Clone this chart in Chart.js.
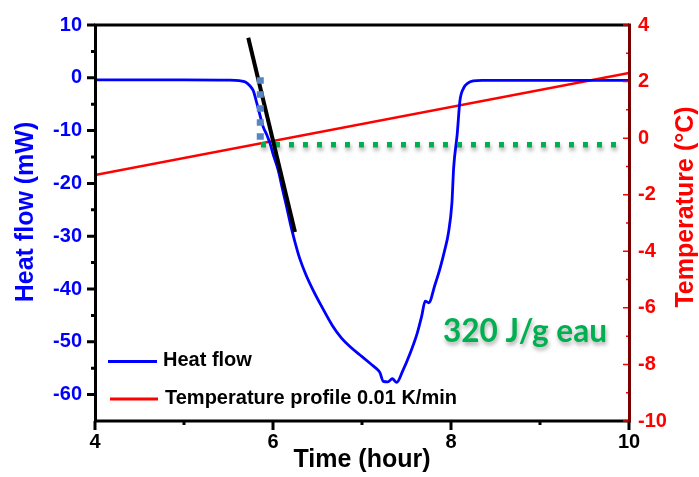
<!DOCTYPE html>
<html><head><meta charset="utf-8">
<script src="https://cdn.jsdelivr.net/npm/chart.js@4/dist/chart.umd.min.js"></script>
<style>html,body{margin:0;padding:0;background:#fff;}#wrap{width:699px;height:477px;}</style>
</head><body><div id="wrap"><canvas id="c" width="699" height="477"></canvas></div>
<script>
// ---- data ----
const timeHours = [4.0, 5.0, 5.5, 5.62, 5.69, 5.74, 5.78, 5.81, 5.84, 5.89, 5.93, 5.97, 6.0, 6.06, 6.1, 6.15, 6.2, 6.25, 6.3, 6.37, 6.45, 6.55, 6.67, 6.77, 6.87, 7.0, 7.1, 7.17, 7.2, 7.24, 7.29, 7.34, 7.39, 7.46, 7.54, 7.62, 7.67, 7.71, 7.75, 7.82, 7.88, 7.93, 7.97, 8.01, 8.03, 8.07, 8.10, 8.14, 8.19, 8.25, 8.35, 9.0, 10.0];
const heatFlow = [-0.4, -0.4, -0.45, -0.55, -0.8, -1.5, -2.5, -4.3, -6.2, -9.3, -10.8, -12.6, -14.4, -17.6, -20.6, -24.2, -28.0, -31.3, -34.2, -37.3, -40.2, -43.4, -47.0, -49.3, -51.0, -52.8, -54.2, -55.2, -55.8, -57.5, -57.6, -57.0, -57.7, -55.4, -52.2, -48.4, -45.2, -42.3, -42.6, -39.2, -35.9, -32.6, -29.5, -23.8, -17.0, -10.6, -4.4, -2.0, -1.0, -0.6, -0.5, -0.5, -0.5];
const tempTime = [4, 10];
const tempValues = [-1.3, 2.3];
const tangentTime = [5.722, 6.247];
const tangentHeat = [7.6, -29.2];
const onsetTime = [5.857, 5.857];
const onsetHeat = [0.1, -11.8];
const plateauTime = [5.865, 9.86];
const plateauHeat = [-12.7, -12.7];
const xTicks = [4, 6, 8, 10];
const xMinor = [5, 7, 9];
const heatTicks = [10, 0, -10, -20, -30, -40, -50, -60];
const heatMinor = [5, -5, -15, -25, -35, -45, -55];
const tempTicks = [4, 2, 0, -2, -4, -6, -8, -10];
const tempMinor = [3, 1, -1, -3, -5, -7, -9];
const legendLabels = ['Heat flow', 'Temperature profile 0.01 K/min'];
const annotationText = '320 J/g eau';
const xTitle = 'Time (hour)';
const yTitle = 'Heat flow (mW)';
const y2Title = 'Temperature (°C)';

const pts = (xs, ys) => xs.map((x, i) => ({x, y: ys[i]}));
const FONT = '"Liberation Sans", Arial, sans-serif';
const BLUE = '#0000ff', RED = '#ff0000', GREEN = '#00b050';

const shadowPlugin = {
  id: 'shadowPlugin',
  beforeDatasetDraw(chart, args) {
    const ds = chart.data.datasets[args.index];
    if (ds.shadow) {
      const ctx = chart.ctx; ctx.save();
      ctx.shadowColor = 'rgba(0,0,0,0.35)'; ctx.shadowBlur = 4; ctx.shadowOffsetX = 1; ctx.shadowOffsetY = 3;
    }
  },
  afterDatasetDraw(chart, args) {
    const ds = chart.data.datasets[args.index];
    if (ds.shadow) chart.ctx.restore();
  }
};

const decoPlugin = {
  id: 'deco',
  afterDraw(chart) {
    const ctx = chart.ctx, a = chart.chartArea;
    const sx = chart.scales.x, sy = chart.scales.y, sy2 = chart.scales.y2;
    ctx.save();
    ctx.lineCap = 'butt';
    ctx.strokeStyle = '#000'; ctx.lineWidth = 3;
    ctx.beginPath();
    ctx.moveTo(a.left + 0.5, a.bottom + 1.5); ctx.lineTo(a.left + 0.5, a.top - 1.5);
    ctx.moveTo(a.left - 1, a.top); ctx.lineTo(a.right, a.top);
    ctx.moveTo(a.left - 1, a.bottom); ctx.lineTo(a.right + 1.5, a.bottom);
    ctx.stroke();
    ctx.beginPath();
    heatTicks.forEach(v => { const p = sy.getPixelForValue(v); ctx.moveTo(a.left - 8, p); ctx.lineTo(a.left, p); });
    heatMinor.forEach(v => { const p = sy.getPixelForValue(v); ctx.moveTo(a.left - 4, p); ctx.lineTo(a.left, p); });
    xTicks.forEach(v => { const p = sx.getPixelForValue(v); ctx.moveTo(p, a.bottom); ctx.lineTo(p, a.bottom + 9); });
    xMinor.forEach(v => { const p = sx.getPixelForValue(v); ctx.moveTo(p, a.bottom); ctx.lineTo(p, a.bottom + 4); });
    ctx.stroke();
    ctx.strokeStyle = RED; ctx.lineWidth = 1.5;
    ctx.beginPath();
    tempTicks.forEach(v => { const p = sy2.getPixelForValue(v); ctx.moveTo(a.right - 6, p); ctx.lineTo(a.right, p); });
    tempMinor.forEach(v => { const p = sy2.getPixelForValue(v); ctx.moveTo(a.right - 3, p); ctx.lineTo(a.right, p); });
    ctx.stroke();
    ctx.strokeStyle = '#7a0000'; ctx.lineWidth = 3;
    ctx.beginPath(); ctx.moveTo(a.right + 0.5, a.top - 1.5); ctx.lineTo(a.right + 0.5, a.bottom + 1.5); ctx.stroke();

    ctx.font = 'bold 25px ' + FONT;
    ctx.textAlign = 'center'; ctx.textBaseline = 'alphabetic';
    ctx.fillStyle = '#000';
    ctx.fillText(xTitle, 362, 467);
    ctx.save(); ctx.translate(33, 212); ctx.rotate(-Math.PI / 2); ctx.fillStyle = BLUE; ctx.fillText(yTitle, 0, 0); ctx.restore();
    ctx.save(); ctx.translate(693, 207); ctx.rotate(-Math.PI / 2); ctx.fillStyle = RED; ctx.fillText(y2Title, 0, 0); ctx.restore();

    const ds = chart.data.datasets;
    const legendRows = [[ds[3], 361.5, 108, 157, 163], [ds[4], 399, 110, 158, 165]];
    ctx.font = 'bold 20px ' + FONT; ctx.textAlign = 'left'; ctx.textBaseline = 'middle'; ctx.fillStyle = '#000';
    legendRows.forEach(([d, y, x0, x1, tx]) => {
      ctx.strokeStyle = d.borderColor; ctx.lineWidth = 3;
      ctx.beginPath(); ctx.moveTo(x0, y); ctx.lineTo(x1, y); ctx.stroke();
      ctx.fillText(d.label, tx, y - 1);
    });

    ctx.font = 'bold 100px Lato, ' + FONT;
    const w = ctx.measureText(annotationText).width;
    const size = 100 * 164 / w;
    ctx.font = 'bold ' + size.toFixed(2) + 'px Lato, ' + FONT;
    ctx.textBaseline = 'alphabetic';
    ctx.shadowColor = 'rgba(0,0,0,0.35)'; ctx.shadowBlur = 4; ctx.shadowOffsetX = 1; ctx.shadowOffsetY = 3;
    ctx.fillStyle = GREEN;
    ctx.fillText(annotationText, 443, 342);
    ctx.restore();
  }
};

const tickFont = {family: FONT, size: 20, weight: 'bold'};

new Chart(document.getElementById('c'), {
  type: 'scatter',
  data: {
    datasets: [
      {label: 'onset', data: pts(onsetTime, onsetHeat), yAxisID: 'y', showLine: true, borderColor: '#5585c4', borderWidth: 7, borderDash: [6.5, 7.5], pointRadius: 0, borderCapStyle: 'butt'},
      {label: 'tangent', data: pts(tangentTime, tangentHeat), yAxisID: 'y', showLine: true, borderColor: '#000', borderWidth: 4, pointRadius: 0, borderCapStyle: 'butt'},
      {label: 'plateau', data: pts(plateauTime, plateauHeat), yAxisID: 'y', showLine: true, borderColor: GREEN, borderWidth: 5.5, borderDash: [5, 9], pointRadius: 0, borderCapStyle: 'butt', shadow: true},
      {label: legendLabels[0], data: pts(timeHours, heatFlow), yAxisID: 'y', showLine: true, borderColor: BLUE, borderWidth: 2.8, pointRadius: 0, cubicInterpolationMode: 'monotone'},
      {label: legendLabels[1], data: pts(tempTime, tempValues), yAxisID: 'y2', showLine: true, borderColor: RED, borderWidth: 2.5, pointRadius: 0}
    ]
  },
  options: {
    responsive: false, animation: false, devicePixelRatio: 1,
    layout: {padding: {top: 24, left: 0, right: 0, bottom: 0}},
    plugins: {legend: {display: false}, tooltip: {enabled: false}},
    scales: {
      x: {type: 'linear', position: 'bottom', min: 4, max: 10,
        grid: {display: false, drawTicks: false}, border: {display: false},
        ticks: {font: tickFont, color: '#000', padding: 9, maxRotation: 0},
        afterBuildTicks: s => { s.ticks = xTicks.map(v => ({value: v})); },
        afterFit: s => { s.height = 56; }},
      y: {type: 'linear', position: 'left', min: -65, max: 10,
        grid: {display: false, drawTicks: false}, border: {display: false},
        ticks: {font: tickFont, color: BLUE, padding: 13},
        afterBuildTicks: s => { s.ticks = heatTicks.map(v => ({value: v})); },
        afterFit: s => { s.width = 95; }},
      y2: {type: 'linear', position: 'right', min: -10, max: 4,
        grid: {display: false, drawTicks: false}, border: {display: false},
        ticks: {font: tickFont, color: RED, padding: 9},
        afterBuildTicks: s => { s.ticks = tempTicks.map(v => ({value: v})); },
        afterFit: s => { s.width = 70; }}
    }
  },
  plugins: [shadowPlugin, decoPlugin]
});
</script>
</body></html>
